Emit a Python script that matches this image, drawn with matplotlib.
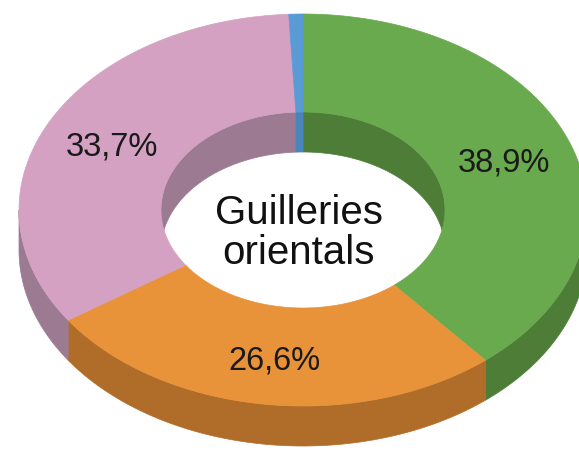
import numpy as np
import matplotlib.pyplot as plt
from matplotlib.patches import Polygon

plt.rcParams['font.family'] = ['Liberation Sans', 'DejaVu Sans']

# share of each zone, clockwise from 12 o'clock
labels = ["38,9%", "26,6%", "33,7%", ""]
values = [38.9, 26.6, 33.7, 0.8]
top_colors = ["#6aaa4e", "#e8933a", "#d4a1c3", "#5b9bd5"]
side_colors = ["#4e7d38", "#b06d2a", "#9b7a92", "#4a84bd"]
center_title = "Guilleries\norientals"

# ring geometry (pixels, y grows downwards)
cx, cy = 303, 210
rx, ry = 284, 196
rx_in, ry_in = 142, 98
depth = 40


def ring_xy(t, a, b):
    t = np.radians(t)
    return cx + a * np.sin(t), cy - b * np.cos(t)


def arc(t0, t1, a, b, dy=0.0, n=120):
    t = np.linspace(t0, t1, n)
    x, y = ring_xy(t, a, b)
    return np.column_stack([x, y + dy])


def overlap(a0, a1, b0, b1):
    lo, hi = max(a0, b0), min(a1, b1)
    return (lo, hi) if hi > lo else None


fig = plt.figure(figsize=(5.79, 4.51), dpi=100)
ax = fig.add_axes([0, 0, 1, 1])
ax.set_xlim(0, 579)
ax.set_ylim(451, 0)
ax.axis('off')

ends = np.cumsum(values) / sum(values) * 360
starts = np.concatenate([[0], ends[:-1]])

# inner wall, back half of the hole
for s, e, col in zip(starts, ends, side_colors):
    for lo, hi in [(-90, 90), (270, 450)]:
        seg = overlap(s, e, lo, hi)
        if seg is None:
            continue
        top = arc(seg[0], seg[1], rx_in, ry_in)
        bot = arc(seg[1], seg[0], rx_in, ry_in, dy=depth)
        ax.add_patch(Polygon(np.vstack([top, bot]), closed=True,
                             facecolor=col, edgecolor=col, lw=0.5))

# outer wall, front half
for s, e, col in zip(starts, ends, side_colors):
    seg = overlap(s, e, 90, 270)
    if seg is None:
        continue
    top = arc(seg[0], seg[1], rx, ry)
    bot = arc(seg[1], seg[0], rx, ry, dy=depth)
    ax.add_patch(Polygon(np.vstack([top, bot]), closed=True,
                         facecolor=col, edgecolor=col, lw=0.5))

# top face of every slice
for s, e, col in zip(starts, ends, top_colors):
    outer = arc(s, e, rx, ry)
    inner = arc(e, s, rx_in, ry_in)
    ax.add_patch(Polygon(np.vstack([outer, inner]), closed=True,
                         facecolor=col, edgecolor=col, lw=0.5))

# percentage labels in the middle of each ring segment
label_r = 0.75
offsets = [(1, 3), (1, 5), (0, 2), (0, 0)]
for s, e, lab, off in zip(starts, ends, labels, offsets):
    if not lab:
        continue
    mid = (s + e) / 2
    x, y = ring_xy(mid, rx * label_r, ry * label_r)
    ax.text(x + off[0], y + off[1], lab, ha='center', va='center',
            fontsize=23.5, color='#1a1a1a')

ax.text(299, 233, center_title, ha='center', va='center',
        fontsize=29, color='#111111', linespacing=1.08)

fig.savefig("out.png", dpi=100)
plt.close(fig)
